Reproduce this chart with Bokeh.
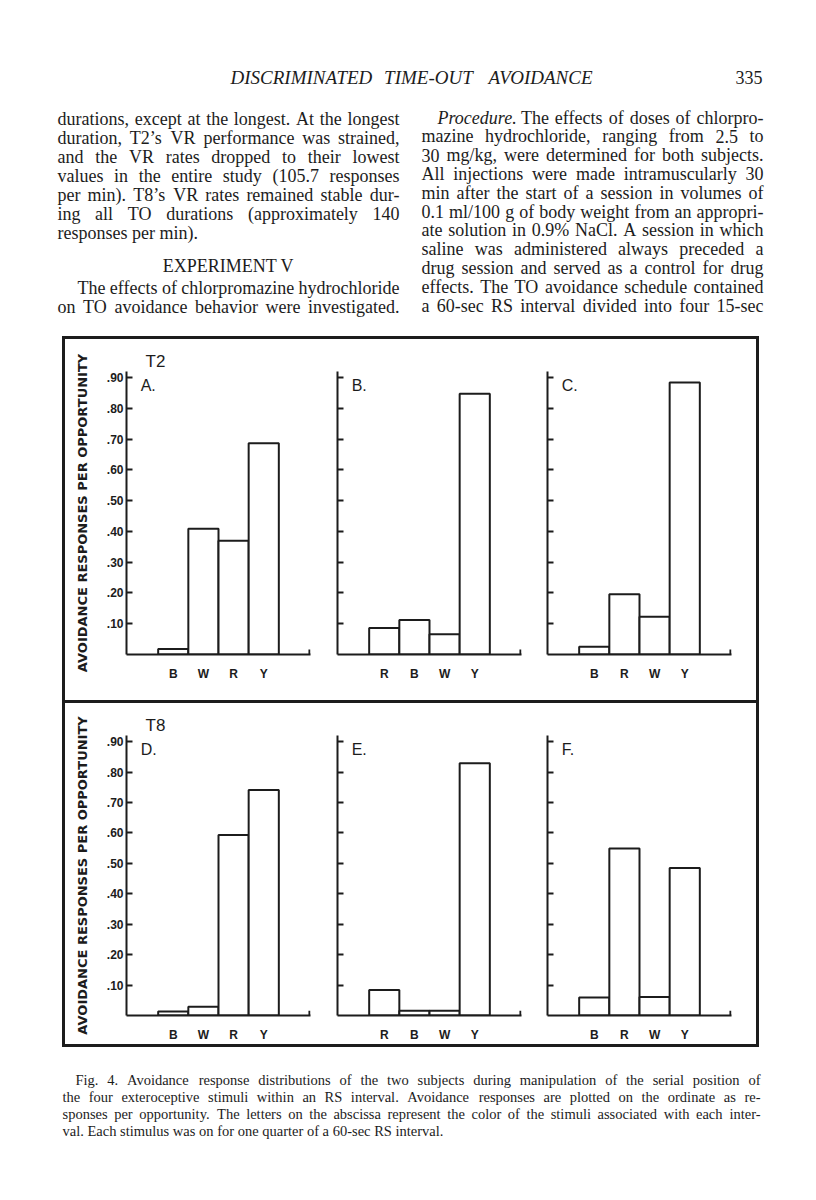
from bokeh.plotting import figure
from bokeh.models import Range1d, FixedTicker, Label, ColumnDataSource, Spacer
from bokeh.layouts import column, row
from bokeh.embed import file_html
from bokeh.resources import INLINE
from bokeh.core.properties import value

# ---------------- data ----------------
subjects = ["T2", "T8"]
panel_letters = ["A.", "B.", "C.", "D.", "E.", "F."]
orders = [
    ["B", "W", "R", "Y"],
    ["R", "B", "W", "Y"],
    ["B", "R", "W", "Y"],
    ["B", "W", "R", "Y"],
    ["R", "B", "W", "Y"],
    ["B", "R", "W", "Y"],
]
values_A = [0.018, 0.409, 0.370, 0.687]
values_B = [0.086, 0.112, 0.066, 0.848]
values_C = [0.025, 0.196, 0.123, 0.884]
values_D = [0.013, 0.029, 0.593, 0.741]
values_E = [0.084, 0.016, 0.016, 0.829]
values_F = [0.059, 0.549, 0.061, 0.485]
panel_values = [values_A, values_B, values_C, values_D, values_E, values_F]
y_ticks = [0.1, 0.2, 0.3, 0.4, 0.5, 0.6, 0.7, 0.8, 0.9]
y_tick_labels = [".10", ".20", ".30", ".40", ".50", ".60", ".70", ".80", ".90"]
y_title = "AVOIDANCE RESPONSES PER OPPORTUNITY"

header_line = "DISCRIMINATED TIME-OUT AVOIDANCE"
page_number = "335"
col1_lines = [
    "durations, except at the longest. At the longest",
    "duration, T2\u2019s VR performance was strained,",
    "and the VR rates dropped to their lowest",
    "values in the entire study (105.7 responses",
    "per min). T8\u2019s VR rates remained stable dur-",
    "ing all TO durations (approximately 140",
    "responses per min).",
]
section_title = "EXPERIMENT V"
col1_lines_b = [
    "The effects of chlorpromazine hydrochloride",
    "on TO avoidance behavior were investigated.",
]
col2_lines = [
    "_Procedure. The effects of doses of chlorpro-",
    "mazine hydrochloride, ranging from 2.5 to",
    "30 mg/kg, were determined for both subjects.",
    "All injections were made intramuscularly 30",
    "min after the start of a session in volumes of",
    "0.1 ml/100 g of body weight from an appropri-",
    "ate solution in 0.9% NaCl. A session in which",
    "saline was administered always preceded a",
    "drug session and served as a control for drug",
    "effects. The TO avoidance schedule contained",
    "a 60-sec RS interval divided into four 15-sec",
]
caption_lines = [
    "Fig. 4. Avoidance response distributions of the two subjects during manipulation of the serial position of",
    "the four exteroceptive stimuli within an RS interval. Avoidance responses are plotted on the ordinate as re-",
    "sponses per opportunity. The letters on the abscissa represent the color of the stimuli associated with each inter-",
    "val. Each stimulus was on for one quarter of a 60-sec RS interval.",
]

INK = "#1c1c1c"
SERIF = "Liberation Serif"

# approximate Times metrics (1/1000 em) used to justify lines
CW = {" ": 250, "!": 333, "%": 833, "'": 180, "\u2019": 333, "(": 333, ")": 333,
      ",": 250, "-": 333, ".": 250, "/": 278, ":": 278, ";": 278,
      "A": 722, "B": 667, "C": 667, "D": 722, "E": 611, "F": 556, "G": 722, "H": 722,
      "I": 333, "J": 389, "K": 722, "L": 611, "M": 889, "N": 722, "O": 722, "P": 556,
      "Q": 722, "R": 667, "S": 556, "T": 611, "U": 722, "V": 722, "W": 944, "X": 722,
      "Y": 722, "Z": 611,
      "a": 444, "b": 500, "c": 444, "d": 500, "e": 444, "f": 333, "g": 500, "h": 500,
      "i": 278, "j": 278, "k": 500, "l": 278, "m": 778, "n": 500, "o": 500, "p": 500,
      "q": 500, "r": 333, "s": 389, "t": 278, "u": 500, "v": 500, "w": 722, "x": 500,
      "y": 500, "z": 444}


def tw(s, size):
    return sum(CW.get(c, 500) for c in s) * size / 1000.0


def add(groups, size, style, align, x, y, t):
    g = groups.setdefault((size, style, align), {"x": [], "y": [], "t": []})
    g["x"].append(x)
    g["y"].append(y)
    g["t"].append(t)


def layout_lines(lines, size, groups):
    for ln in lines:
        txt, x0, x1, y, mode = ln[:5]
        style = ln[5] if len(ln) > 5 else "normal"
        words = txt.split(" ")
        parsed = [("italic", w[1:]) if w.startswith("_") else (style, w) for w in words]
        if mode == "c":
            add(groups, size, style, "center", x0, y, txt)
            continue
        if mode == "l" or len(words) == 1:
            add(groups, size, style, "left", x0, y, txt)
            continue
        widths = [tw(w, size) for _, w in parsed]
        gap = (x1 - x0 - sum(widths)) / (len(words) - 1)
        x = x0
        for k, (s, w) in enumerate(parsed):
            if k == len(parsed) - 1:
                add(groups, size, s, "right", x1, y, w)
            else:
                add(groups, size, s, "left", x, y, w)
                x += widths[k] + gap


def text_canvas(h, y0):
    p = figure(width=800, height=h, x_range=Range1d(8, 808), y_range=Range1d(y0 + h, y0),
               output_backend="svg", toolbar_location=None, x_axis_type=None,
               y_axis_type=None, min_border=0)
    p.outline_line_color = None
    p.background_fill_color = "white"
    p.border_fill_color = "white"
    return p


def draw_groups(p, groups):
    for (size, style, align), g in groups.items():
        src = ColumnDataSource(dict(x=g["x"], y=g["y"], t=g["t"]))
        p.text(x="x", y="y", text="t", source=src, text_font=value(SERIF),
               text_font_size=value(f"{size}px"), text_font_style=value(style),
               text_align=value(align), text_baseline=value("middle"), text_color=INK)


# ---------------- top text ----------------
top = text_canvas(328, 8)
groups = {}
layout_lines([(header_line, 230, 592, 77, "j", "italic")], 19, groups)
lines = [(t, 57, 399, 118 + 19 * i, "l" if i == len(col1_lines) - 1 else "j")
         for i, t in enumerate(col1_lines)]
lines += [(section_title, 228, 228, 265, "c")]
lines += [(col1_lines_b[0], 77, 399, 287, "j"), (col1_lines_b[1], 57, 399, 306, "j")]
lines += [(t, 437 if i == 0 else 421, 763, 117 + 18.8 * i, "j") for i, t in enumerate(col2_lines)]
layout_lines(lines, 18, groups)
add(groups, 18, "normal", "right", 762, 77, page_number)
draw_groups(top, groups)

# ---------------- caption ----------------
cap = text_canvas(140, 1047)
cgroups = {}
clines = [(t, 75 if i == 0 else 62, 760, 1079 + 17 * i,
           "l" if i == len(caption_lines) - 1 else "j") for i, t in enumerate(caption_lines)]
layout_lines(clines, 14.5, cgroups)
draw_groups(cap, cgroups)

# ---------------- panels ----------------
FRAME_H = 283


def make_panel(i, width, left, right, top_b, bottom_b):
    first = i % 3 == 0
    cats = orders[i]
    vals = panel_values[i]
    xs = list(range(len(cats)))
    xr = Range1d(xs[0] - 1.55, xs[-1] + 1.55)
    yr = Range1d(0, 0.92)
    kw = dict(title=subjects[i // 3]) if first else {}
    p = figure(width=width, height=top_b + FRAME_H + bottom_b, x_range=xr, y_range=yr,
               output_backend="svg", toolbar_location=None,
               min_border_left=left, min_border_right=right,
               min_border_top=top_b, min_border_bottom=bottom_b, **kw)
    p.grid.visible = False
    p.outline_line_color = None
    p.background_fill_color = "white"
    p.border_fill_color = "white"
    if first:
        p.title.text_font = "Liberation Sans"
        p.title.text_font_size = "17px"
        p.title.text_font_style = "normal"
        p.title.text_color = INK
        p.title.align = "left"
        p.title.offset = 19
        p.title.standoff = 2

    xa = p.xaxis[0]
    xa.ticker = FixedTicker(ticks=xs)
    xa.major_label_overrides = {x: c for x, c in zip(xs, cats)}
    xa.major_tick_line_color = None
    xa.minor_tick_line_color = None
    xa.axis_line_width = 2
    xa.axis_line_color = INK
    xa.major_label_text_font = "Liberation Sans"
    xa.major_label_text_font_style = "bold"
    xa.major_label_text_font_size = "12px"
    xa.major_label_text_color = INK
    xa.major_label_standoff = 6

    ya = p.yaxis[0]
    ya.ticker = FixedTicker(ticks=y_ticks)
    ya.major_tick_in = 6
    ya.major_tick_out = 0
    ya.major_tick_line_width = 2
    ya.major_tick_line_color = INK
    ya.minor_tick_line_color = None
    ya.axis_line_width = 2
    ya.axis_line_color = INK
    if first:
        ya.major_label_overrides = {t: l for t, l in zip(y_ticks, y_tick_labels)}
        ya.major_label_text_font = "Liberation Sans"
        ya.major_label_text_font_style = "bold"
        ya.major_label_text_font_size = "12px"
        ya.major_label_text_color = INK
        ya.major_label_standoff = 3
        ya.axis_label = y_title
        ya.axis_label_text_font = "DejaVu Sans"
        ya.axis_label_text_font_style = "bold"
        ya.axis_label_text_font_size = "13px"
        ya.axis_label_text_color = INK
        ya.axis_label_standoff = 14
    else:
        ya.major_label_overrides = {t: "" for t in y_ticks}
        ya.major_label_text_font_size = "1px"

    p.vbar(x=xs, top=vals, bottom=0, width=1.0, fill_color="white",
           line_color=INK, line_width=2)
    end_x = xr.end - 0.035
    p.segment(x0=[end_x], x1=[end_x], y0=[0], y1=[0.016], line_color=INK, line_width=2)
    p.add_layout(Label(x=xr.start + 0.47, y=0.875, text=panel_letters[i],
                       text_font="Liberation Sans", text_font_size="16px",
                       text_baseline="middle", text_color=INK))
    return p


widths = [(257, 61, 12), (210, 15, 11), (224, 15, 25)]
top_figs = [make_panel(i, *widths[i], 32, 46) for i in range(3)]
bot_figs = [make_panel(3 + i, *widths[i], 32, 26) for i in range(3)]


def bar(w, h):
    return Spacer(width=w, height=h, styles={"background-color": INK})


box_top = row(Spacer(width=54, height=367), bar(3, 367),
              column(bar(691, 3), row(*top_figs), bar(691, 3)), bar(3, 367))
box_bot = row(Spacer(width=54, height=344), bar(3, 344),
              column(row(*bot_figs), bar(691, 3)), bar(3, 344))

body = column(top, box_top, box_bot, cap)
page = column(Spacer(width=800, height=8), row(Spacer(width=8, height=10), body))

with open("out.html", "w") as f:
    f.write(file_html(page, INLINE))
